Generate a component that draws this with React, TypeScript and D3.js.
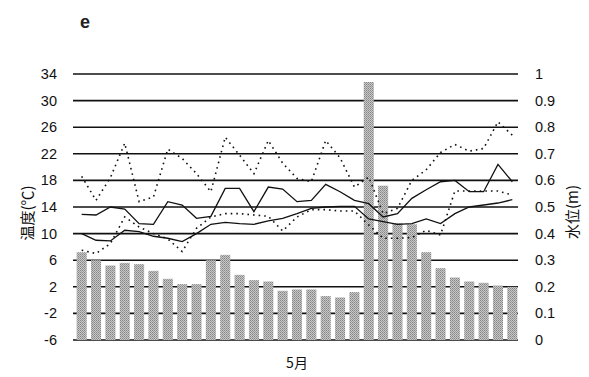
import React from "react";
import * as d3 from "d3";

const days = [1,2,3,4,5,6,7,8,9,10,11,12,13,14,15,16,17,18,19,20,21,22,23,24,25,26,27,28,29,30,31];
const waterLevel = [0.33,0.30,0.28,0.29,0.285,0.26,0.23,0.21,0.21,0.30,0.32,0.245,0.225,0.22,0.185,0.19,0.19,0.165,0.16,0.18,0.97,0.58,0.44,0.435,0.33,0.27,0.235,0.22,0.215,0.205,0.2];
const tempMax = [18.6,15,18.4,23.6,14.8,15.5,22.7,21.3,19,16.3,24.5,21.8,19,24,20.6,18.3,17.8,24,21.4,17,18.5,13,13.8,18,19.6,22.2,23.4,22.4,22.8,26.8,24.8];
const tempMean = [12.9,12.8,14,13.7,11.5,11.4,14.8,14.3,12.3,12.6,16.8,16.8,13.3,17,16.7,14.8,15,17.4,16.3,15,14.5,12.5,13,15.3,16.6,17.8,18,16.3,16.3,20.4,17.8];
const waterTemp = [10,9,8.9,10.5,10.3,9.6,9.3,8.8,10,11.4,11.7,11.5,11.4,11.9,12.3,13,13.8,14,14.1,14.1,12.2,11.8,11.4,11.5,12.2,11.5,13,14,14.3,14.6,15.1];
const tempMin = [7.5,7,8.5,12.5,11,10,9.2,7.3,10.8,12.5,13,13,12.8,12.6,10.4,12.5,13.6,13.6,13.4,13.4,11.3,9.3,9.3,9.4,10.5,9.8,16.4,16.4,16.4,16.4,15.8];
const leftTicks = [34,30,26,22,18,14,10,6,2,-2,-6];
const rightTicks = [1,0.9,0.8,0.7,0.6,0.5,0.4,0.3,0.2,0.1,0];

const W = 589, H = 377;
const L = 73, R = 518, T = 74, B = 340;

export default function App() {
  const x = d3.scaleBand<number>().domain(days).range([L + 1.5, R + 1.5]).paddingInner(0.3).paddingOuter(0.15);
  const yT = d3.scaleLinear().domain([-6, 34]).range([B, T]);
  const yW = d3.scaleLinear().domain([0, 1]).range([B, T]);
  const cx = (d: number) => (x(d) as number) + x.bandwidth() / 2;
  const line = (vals: number[]) =>
    d3.line<number>().x((_, i) => cx(days[i])).y((v) => yT(v))(vals) as string;
  const font = "'Liberation Sans', Arial, sans-serif";
  const cjk = "'Noto Sans CJK JP', 'Liberation Sans', sans-serif";
  return (
    <svg width={W} height={H} style={{ position: "absolute", left: 0, top: 0, background: "#fff" }}>
      <defs>
        <pattern id="hatch" width="2" height="2" patternUnits="userSpaceOnUse">
          <rect width="2" height="2" fill="#c8c8c8" />
          <rect width="1" height="1" fill="#858585" />
          <rect x="1" y="1" width="1" height="1" fill="#9a9a9a" />
        </pattern>
      </defs>
      <text x={85} y={28} fontFamily={font} fontSize={18} fontWeight="bold" textAnchor="middle" fill="#222">e</text>
      {leftTicks.map((t) => (
        <g key={"g" + t}>
          <line x1={L} x2={R} y1={yT(t)} y2={yT(t)} stroke="#111" strokeWidth={1.6} />
          <text x={57} y={yT(t) + 5} fontFamily={font} fontSize={14.5} textAnchor="end" fill="#111">{t}</text>
        </g>
      ))}
      {rightTicks.map((t) => (
        <text key={"r" + t} x={535} y={yW(t) + 5} fontFamily={font} fontSize={14.5} textAnchor="start" fill="#111">{String(t)}</text>
      ))}
      {days.map((d, i) => (
        <rect key={"b" + d} x={x(d)} width={x.bandwidth()} y={yW(waterLevel[i])} height={yW(0) - yW(waterLevel[i])} fill="url(#hatch)" />
      ))}
      <path d={line(tempMax)} fill="none" stroke="#111" strokeWidth={1.6} strokeDasharray="1.6,4" />
      <path d={line(tempMin)} fill="none" stroke="#111" strokeWidth={1.6} strokeDasharray="1.6,4" />
      <path d={line(tempMean)} fill="none" stroke="#111" strokeWidth={1.3} />
      <path d={line(waterTemp)} fill="none" stroke="#111" strokeWidth={1.3} />
      <text transform={`translate(33,${213}) rotate(-90)`} fontFamily={cjk} fontSize={15} textAnchor="middle" fill="#111">温度(℃)</text>
      <text transform={`translate(578,${212}) rotate(-90)`} fontFamily={cjk} fontSize={15} textAnchor="middle" fill="#111">水位(m)</text>
      <text x={297} y={368} fontFamily={cjk} fontSize={14} textAnchor="middle" fill="#111">5月</text>
    </svg>
  );
}
